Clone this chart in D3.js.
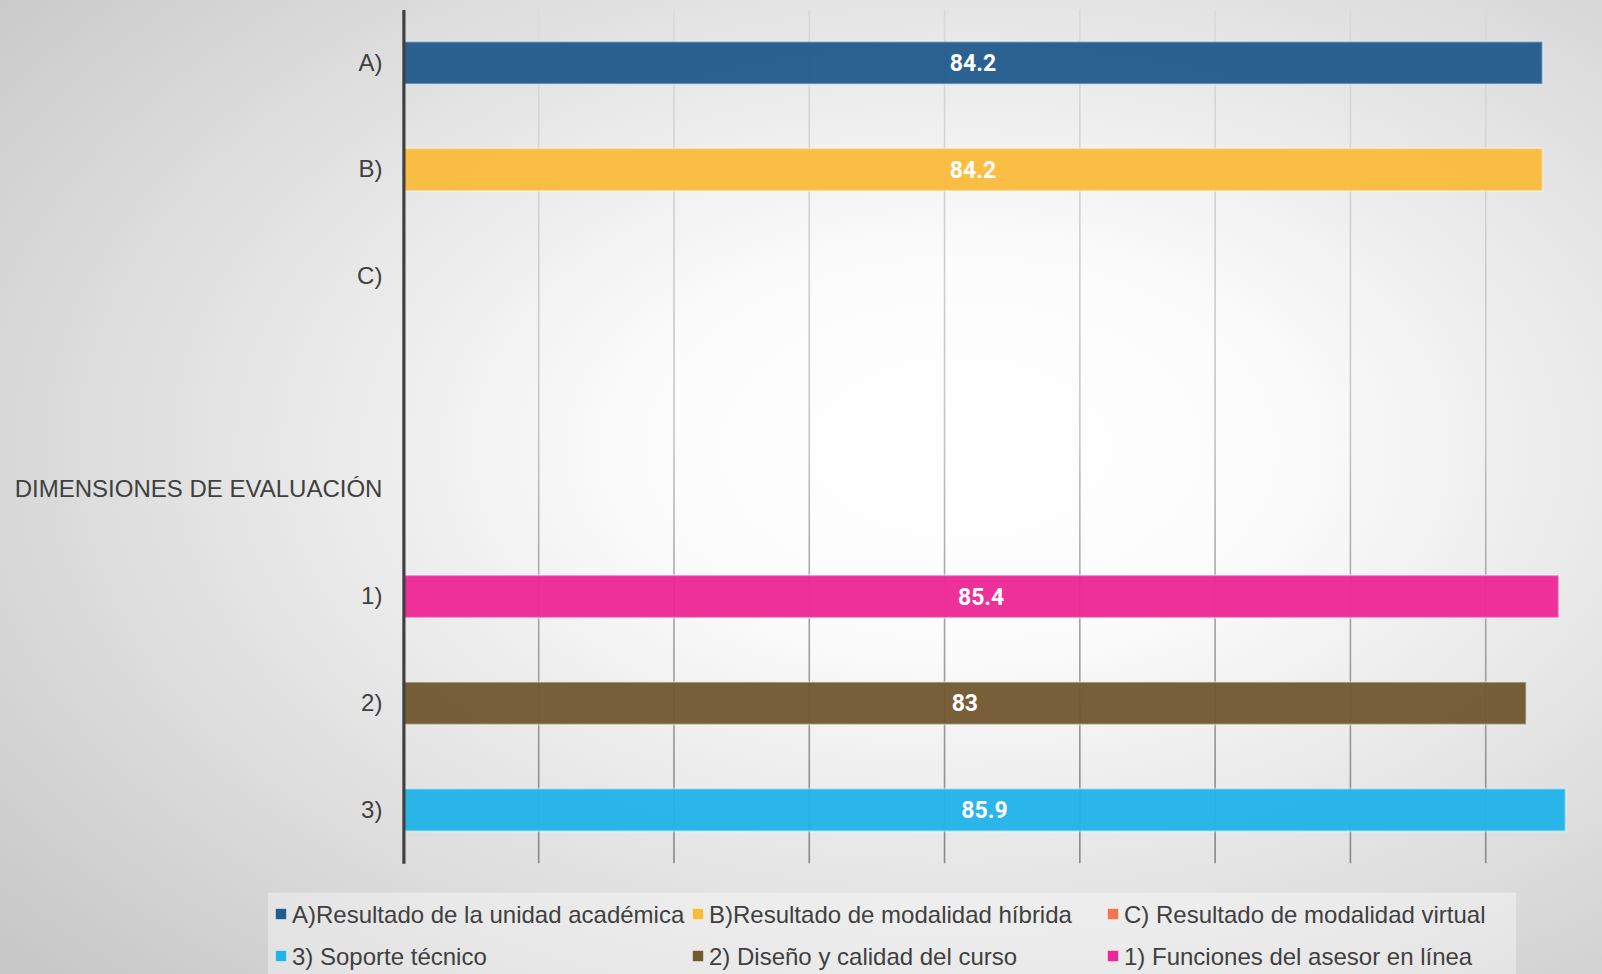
<!DOCTYPE html>
<html>
<head>
<meta charset="utf-8">
<script src="https://cdn.jsdelivr.net/npm/d3@7"></script>
<style>
  html, body { margin: 0; padding: 0; overflow: hidden; }
  svg { display: block; }
</style>
</head>
<body>
<svg id="chart" width="1602" height="974"></svg>
<script>
// bar categories, top to bottom (index 3 is an empty slot)
const categories = ["A)", "B)", "C)", "", "DIMENSIONES DE EVALUACIÓN", "1)", "2)", "3)"];
const values = [84.2, 84.2, null, null, null, 85.4, 83, 85.9];
const barColors = ["#225c8c", "#f9bb3b", "#f07352", null, null, "#ec2896", "#715a31", "#22b3e8"];

// legend, row by row
const legendLabels = [
    "A)Resultado de la unidad académica", "B)Resultado de modalidad híbrida", "C) Resultado de modalidad virtual",
    "3) Soporte técnico", "2) Diseño y calidad del curso", "1) Funciones del asesor en línea"
];
const legendColors = ["#225c8c", "#f9bb3b", "#f07352", "#22b3e8", "#715a31", "#ec2896"];

const W = 1602, H = 974;
const svg = d3.select("#chart");
const defs = svg.append("defs");

// background: soft radial light
const bg = defs.append("radialGradient").attr("id", "bg")
    .attr("cx", "60%").attr("cy", "46%").attr("r", "78%");
bg.append("stop").attr("offset", "0%").attr("stop-color", "#ffffff");
bg.append("stop").attr("offset", "25%").attr("stop-color", "#fcfcfc");
bg.append("stop").attr("offset", "100%").attr("stop-color", "#c8c8c8");
svg.append("rect").attr("width", W).attr("height", H).attr("fill", "url(#bg)");

// gridlines get darker toward the bottom
const gg = defs.append("linearGradient").attr("id", "grid")
    .attr("gradientUnits", "userSpaceOnUse")
    .attr("x1", 0).attr("y1", 0).attr("x2", 0).attr("y2", 864);
gg.append("stop").attr("offset", "0%").attr("stop-color", "#dadada");
gg.append("stop").attr("offset", "50%").attr("stop-color", "#c6c6c6");
gg.append("stop").attr("offset", "70%").attr("stop-color", "#a4a4a4");
gg.append("stop").attr("offset", "100%").attr("stop-color", "#888888");

const x = d3.scaleLinear().domain([0, 90]).range([403.4, 1621]);
const y = d3.scaleBand()
    .domain(d3.range(categories.length))
    .range([9.5, 863.3])
    .paddingInner(0.6)
    .paddingOuter(0.3);

// vertical gridlines
svg.append("g")
    .selectAll("line")
    .data(x.ticks(9).filter(d => d > 0))
    .join("line")
        .attr("x1", d => x(d)).attr("x2", d => x(d))
        .attr("y1", 9.5).attr("y2", 863.3)
        .attr("stroke", "url(#grid)")
        .attr("stroke-width", 1.6);

// bars
const rows = categories.map((c, i) => ({i, c, v: values[i], color: barColors[i]}))
    .filter(d => d.v != null);

svg.append("g")
    .selectAll("rect")
    .data(rows)
    .join("rect")
        .attr("x", x(0))
        .attr("y", d => y(d.i))
        .attr("width", d => x(d.v) - x(0))
        .attr("height", y.bandwidth())
        .attr("fill", d => d.color)
        .attr("fill-opacity", 0.96)
        .attr("stroke", "#ffffff")
        .attr("stroke-opacity", 0.4)
        .attr("stroke-width", 2);

// value labels in the middle of each bar
svg.append("g")
    .selectAll("text")
    .data(rows)
    .join("text")
        .attr("x", d => (x(0) + x(d.v)) / 2)
        .attr("y", d => y(d.i) + y.bandwidth() / 2)
        .attr("dy", "0.36em")
        .attr("text-anchor", "middle")
        .attr("fill", "#ffffff")
        .style("font", "bold 23px Roboto, 'Liberation Sans', Arial, sans-serif")
        .text(d => d.v);

// category axis
const yAxis = svg.append("g")
    .attr("transform", `translate(${x(0)},0)`)
    .call(d3.axisLeft(y).tickSize(0).tickSizeOuter(0).tickPadding(21).tickFormat(i => categories[i]));
yAxis.select(".domain").attr("stroke", "#404040").attr("stroke-width", 3.2);
yAxis.selectAll("text")
    .attr("fill", "#404040")
    .style("font", "24px 'Liberation Sans', Arial, sans-serif");

// legend
svg.append("rect")
    .attr("x", 268).attr("y", 892.7)
    .attr("width", 1248).attr("height", 90)
    .attr("fill", "#ffffff").attr("fill-opacity", 0.38);

const colX = [275, 692, 1107];
const rowY = [914.5, 956.5];
const items = svg.append("g")
    .selectAll("g")
    .data(legendLabels)
    .join("g")
        .attr("transform", (d, i) => `translate(${colX[i % 3]},${rowY[Math.floor(i / 3)]})`);

items.append("rect")
    .attr("x", 0.5).attr("y", -6)
    .attr("width", 11).attr("height", 11)
    .attr("fill", (d, i) => legendColors[i])
    .attr("stroke", "#ffffff").attr("stroke-opacity", 0.45);

items.append("text")
    .attr("x", 17)
    .attr("dy", "0.35em")
    .attr("fill", "#404040")
    .style("font", "24px 'Liberation Sans', Arial, sans-serif")
    .text(d => d);
</script>
</body>
</html>
